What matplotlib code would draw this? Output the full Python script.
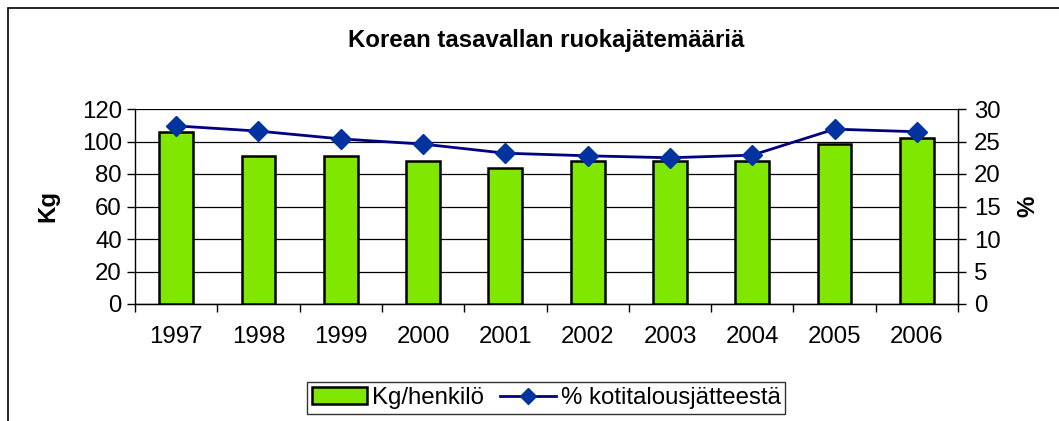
import matplotlib
matplotlib.use("Agg")
import matplotlib.pyplot as plt
from matplotlib.patches import Rectangle
from matplotlib.lines import Line2D
import numpy as np

years = ["1997", "1998", "1999", "2000", "2001", "2002", "2003", "2004", "2005", "2006"]
kg_per_person = [106, 91, 91, 88, 84, 88, 88, 88, 98.5, 102]
pct_household = [27.4, 26.6, 25.4, 24.6, 23.2, 22.8, 22.5, 22.9, 26.9, 26.5]

plt.rcParams['font.family'] = ['Liberation Sans', 'DejaVu Sans']
FS = 17.3

W, H = 1059, 421
fig = plt.figure(figsize=(W / 100, H / 100), dpi=100)

# outer chart border (extends beyond right/bottom edges)
fig.patches.append(Rectangle((8 / W, -0.1), 1.2, 1 - 8 / H + 0.1, transform=fig.transFigure,
                             fill=False, edgecolor='black', linewidth=1.2))

left, right = 135 / W, 958 / W
bottom, top = 1 - 304 / H, 1 - 109 / H
ax = fig.add_axes([left, bottom, right - left, top - bottom])
ax2 = ax.twinx()

x = np.arange(len(years))
ax.bar(x, kg_per_person, width=0.41, color='#80e800', edgecolor='black', linewidth=1.8, zorder=3)
ax.set_xlim(-0.5, len(years) - 0.5)
ax.set_ylim(0, 120)
ax.set_yticks(range(0, 121, 20))
ax.yaxis.grid(True, color='black', linewidth=0.9, zorder=0)
ax.set_axisbelow(True)
ax.set_xticks(x)
ax.set_xticklabels(years, fontsize=FS)
ax.set_xticks(np.arange(-0.5, len(years)), minor=True)
ax.tick_params(axis='x', which='major', length=0, pad=16)
ax.tick_params(axis='x', which='minor', length=6, width=1, direction='out')
ax.tick_params(axis='y', labelsize=FS, length=5.5, width=1, direction='out', pad=4)
ax.spines['top'].set_visible(False)
ax.spines['left'].set_linewidth(1)
ax.spines['bottom'].set_linewidth(1)
ax.set_ylabel('Kg', fontsize=FS, fontweight='bold', labelpad=16)

ax2.plot(x, pct_household, color='#000080', linewidth=2, marker='D', markersize=10,
         markerfacecolor='#0033a0', markeredgecolor='#0033a0', zorder=5)
ax2.set_ylim(0, 30)
ax2.set_yticks(range(0, 31, 5))
ax2.tick_params(axis='y', labelsize=FS, length=5.5, width=1, direction='out', pad=6)
ax2.spines['top'].set_visible(False)
ax2.spines['left'].set_visible(False)
ax2.spines['right'].set_linewidth(1)
ax2.set_ylabel('%', fontsize=FS, fontweight='bold', labelpad=11, rotation=90)

fig.text((135 + 958) / 2 / W, 1 - 40 / H, 'Korean tasavallan ruokajätemääriä',
         ha='center', va='center', fontsize=FS, fontweight='bold')

handles = [Rectangle((0, 0), 1, 1, facecolor='#80e800', edgecolor='black', linewidth=1.8),
           Line2D([], [], color='#000080', linewidth=2, marker='D', markersize=8,
                  markerfacecolor='#0033a0', markeredgecolor='#0033a0')]
leg = fig.legend(handles, ['Kg/henkilö', '% kotitalousjätteestä'], loc='center',
                 bbox_to_anchor=(546 / W, 1 - 398 / H), ncol=2, fontsize=FS,
                 frameon=True, fancybox=False, edgecolor='black', handlelength=2.3,
                 handletextpad=0.2, columnspacing=0.7, borderpad=0.2)
leg.get_frame().set_linewidth(1)

fig.savefig('out.png', dpi=100)
